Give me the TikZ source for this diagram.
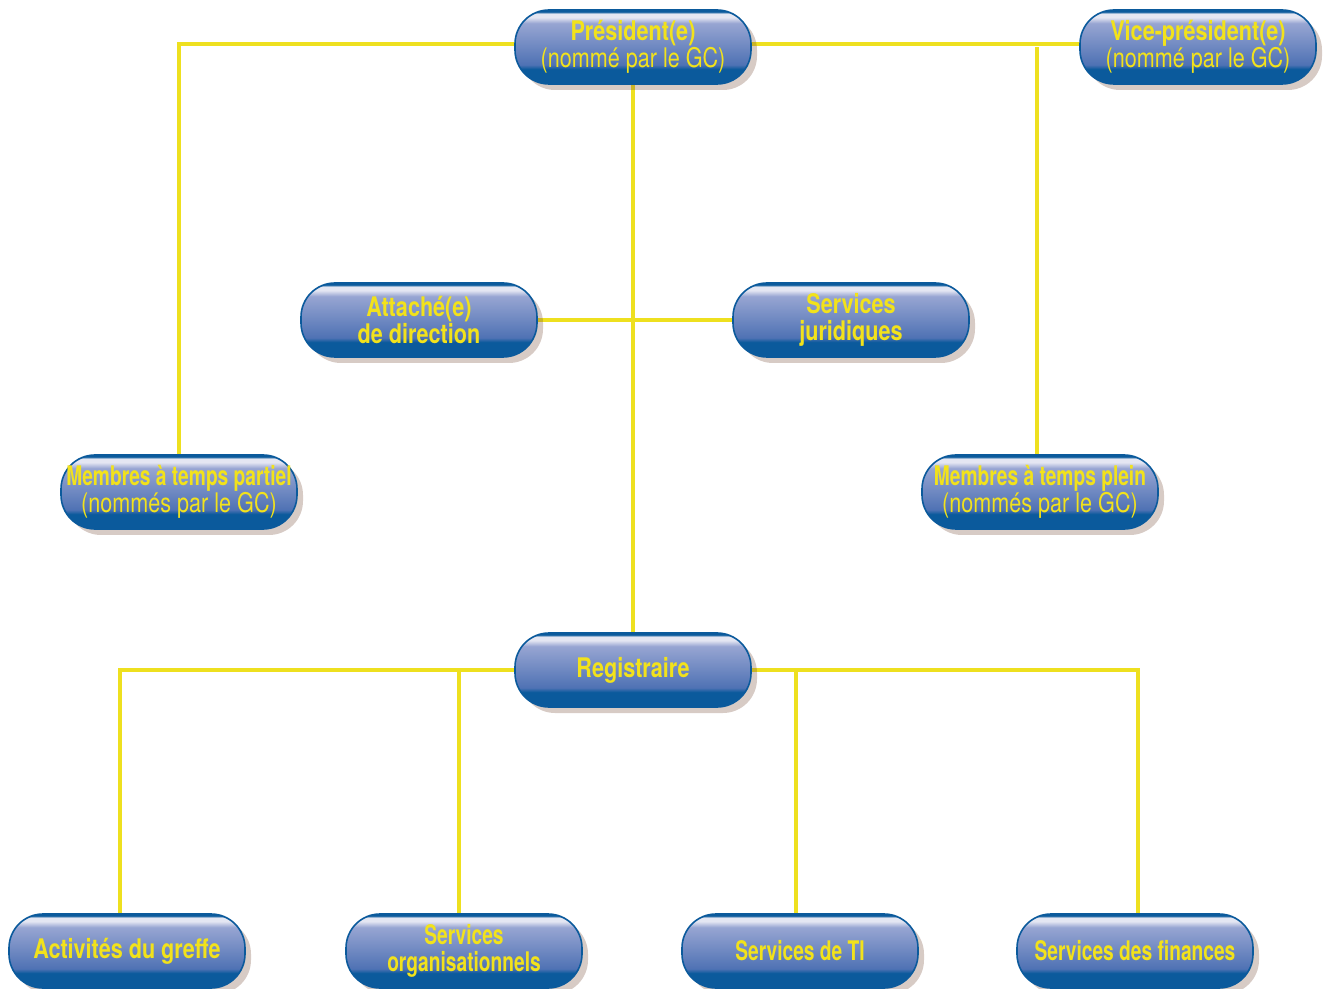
\documentclass[tikz,border=0pt]{standalone}
\usepackage{fontspec}
\setmainfont{TeX Gyre Heros}[FakeStretch=0.8]
\newfontfamily\narrowfont{TeX Gyre Heros}[FakeStretch=0.71]
\usetikzlibrary{shadows,backgrounds}

\definecolor{pilldark}{HTML}{0B5A9C}
\definecolor{pillmid}{HTML}{4F72B4}
\definecolor{pilllight}{HTML}{97A5D2}
\definecolor{pilltop}{HTML}{E4E6F2}
\definecolor{pilltext}{HTML}{F2E21B}
\definecolor{linkyellow}{HTML}{EEE01F}
\definecolor{shadowbrown}{HTML}{7A5240}

\pgfdeclareverticalshading{pillshade}{100bp}{color(0bp)=(pilldark); color(35bp)=(pilldark); color(38bp)=(pillmid); color(66bp)=(pilllight); color(70bp)=(pilltop); color(72.5bp)=(pilltop); color(73.8bp)=(pilldark); color(100bp)=(pilldark)}

\begin{document}
\begin{tikzpicture}[x=0.5pt, y=-0.5pt,
    pill/.style={rectangle, rounded corners=17pt, minimum width=118pt, minimum height=37pt,
        inner sep=0pt, shading=pillshade, draw=pilldark, line width=0.8pt,
        text=pilltext, align=center, font=\fontsize{13.5}{13.5}\selectfont\bfseries,
        drop shadow={shadow xshift=3pt, shadow yshift=-3pt, opacity=0.3, fill=shadowbrown}},
    link/.style={draw=linkyellow, line width=2pt}]
    \useasboundingbox (0,0) rectangle (1323,989);

    % Top level
    \node[pill] (pres) at (633,47) {Président(e)\\{\mdseries (nommé par le GC)}};
    \node[pill] (vice) at (1198,47) {Vice-président(e)\\{\mdseries (nommé par le GC)}};

    % Staff beside the president
    \node[pill] (attache) at (419,320) {Attaché(e)\\de direction};
    \node[pill] (jurid) at (851,320) {Services\\juridiques};

    % Members
    \node[pill] (partiel) at (179,492) {{\narrowfont Membres à temps partiel}\\{\mdseries (nommés par le GC)}};
    \node[pill] (plein) at (1040,492) {{\narrowfont Membres à temps plein}\\{\mdseries (nommés par le GC)}};

    % Registry
    \node[pill] (reg) at (633,670) {Registraire};

    % Services under the registrar
    \node[pill] (greffe) at (127,951) {Activités du greffe};
    \node[pill] (orga) at (464,951) {\narrowfont Services\\\narrowfont organisationnels};
    \node[pill] (ti) at (800,951) {\narrowfont Services de TI};
    \node[pill] (fin) at (1135,951) {\narrowfont Services des finances};

    % Yellow links behind the pills
    \begin{scope}[on background layer]
        \draw[link] ([yshift=1.5pt]pres.center) -| (partiel.north);
        \draw[link] ([yshift=1.5pt]pres.center) -- ([yshift=1.5pt]vice.center);
        \draw[link] ([xshift=-1.5pt]plein.north) -- ([xshift=-1.5pt]plein.north |- vice.center) ++(0,-1.5pt);
        \draw[link] (pres) -- (reg);
        \draw[link] (attache) -- (jurid);
        \foreach \s/\dx in {greffe/-3.5pt, orga/-2.5pt, ti/-2pt, fin/1.5pt} {
            \draw[link] (reg.center) -| ([xshift=\dx]\s.north);
        }
    \end{scope}
\end{tikzpicture}
\end{document}
